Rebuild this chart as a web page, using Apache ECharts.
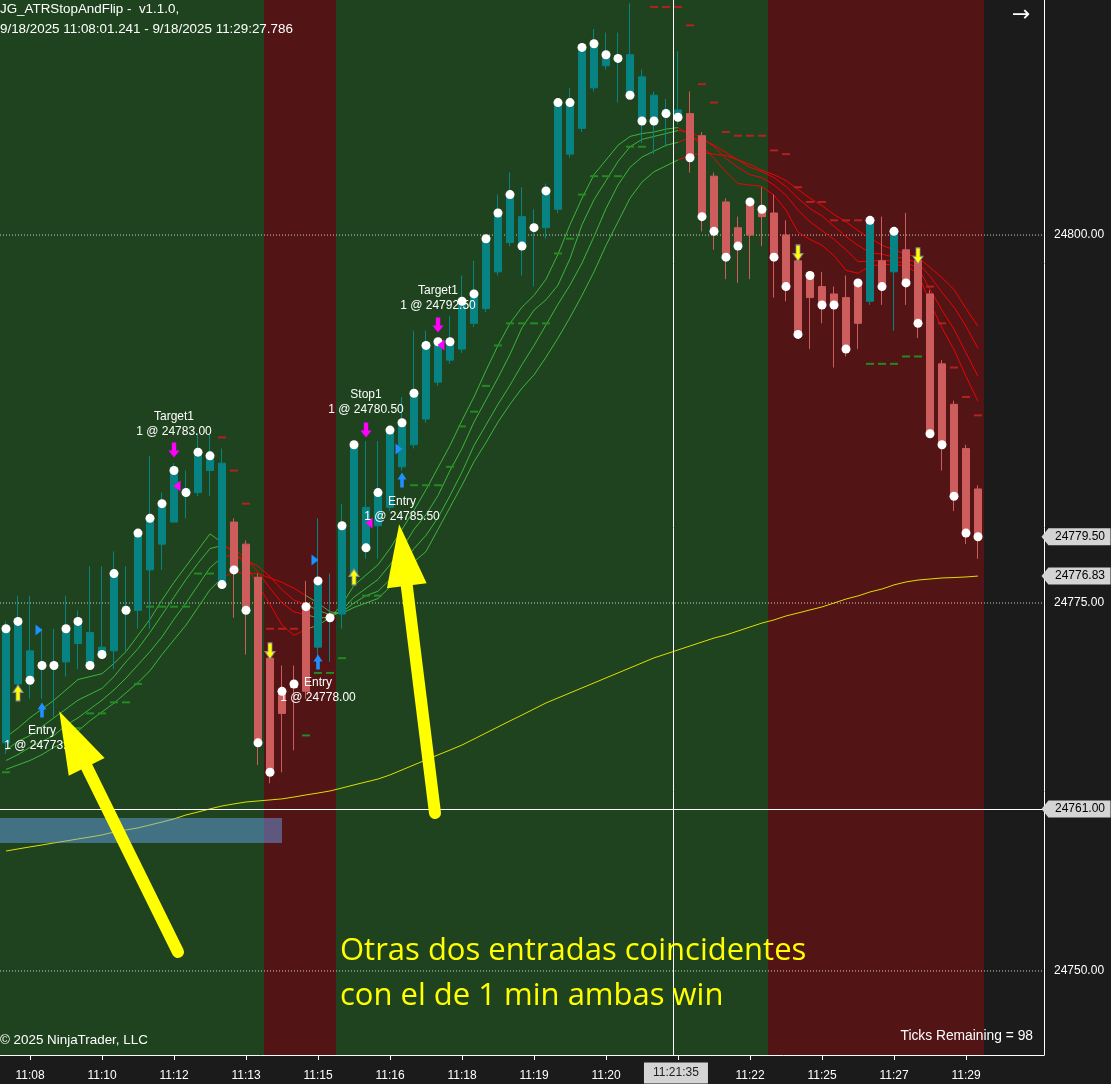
<!DOCTYPE html>
<html>
<head>
<meta charset="utf-8">
<script src="https://cdn.jsdelivr.net/npm/echarts@6.0.0/dist/echarts.min.js"></script>
<style>
html,body{margin:0;padding:0;background:#1b1b1b;overflow:hidden}
#chart{width:1111px;height:1084px}
</style>
</head>
<body>
<div id="chart"></div>
<script>
// ---------------- DATA ----------------
const timeLabels = ['11:08','11:10','11:12','11:13','11:15','11:16','11:18','11:19','11:20','11:21','11:22','11:25','11:27','11:29'];
const yTickValues = [24750, 24775, 24800];

const opens = [24765.5,24769.5,24771.75,24770.75,24770.75,24771,24772.25,24773,24772,24771.75,
24774.75,24774.5,24777.25,24779,24780.5,24782.75,24782.5,24784,24784.5,24780.5,
24779,24776.75,24771.25,24767.5,24769.25,24769,24772,24774,24774.25,24777,
24781.5,24780.25,24781.5,24784.25,24785.75,24787.5,24790,24791.5,24792.25,24794,
24795,24797.5,24799.5,24801.25,24800.5,24800.5,24801.75,24805.5,24807.25,24810,
24811.5,24812,24812.25,24810.75,24809.5,24808.5,24808.5,24808.25,24806.75,24804,
24802.25,24800.5,24800,24801.25,24801.5,24800,24798.25,24795.75,24796.5,24796,
24795.75,24794,24795.5,24798.25,24797.5,24799,24798.25,24796,24791.25,24788.5,
24785.5,24782.75];
const closes = [24773.25,24773.75,24769.75,24770.75,24770.75,24773.25,24773.75,24770.75,24771.5,24777,
24774.5,24779.75,24780.75,24781.75,24784,24782.5,24785.25,24785,24776.25,24777.25,
24774.5,24765.5,24763.5,24769,24769.5,24774.75,24776.5,24774,24780.25,24785.75,
24778.75,24782.5,24786.75,24787.25,24789.25,24792.5,24792.75,24792.75,24795.5,24796,
24799.75,24801.5,24802.75,24799.25,24800.5,24803,24809,24809,24812.75,24813,
24812.25,24812,24809.5,24807.75,24807.75,24808.25,24808,24805.25,24801.25,24800.25,
24798.5,24799.25,24802.25,24801.75,24798.5,24796.5,24793.25,24797.25,24795.25,24795.25,
24792.25,24796.75,24801,24796.5,24800.25,24796.75,24794,24786.5,24785.75,24782.25,
24779.75,24779.5];
const lows = [24764.75,24769,24768.5,24768.5,24767.25,24770,24770.5,24770.5,24771.25,24770.5,
24771.75,24773.25,24773.25,24777.25,24780.5,24780.75,24782.25,24782.25,24776,24774,
24771.5,24764,24762.75,24763.5,24765,24768.5,24770.75,24771,24773.25,24776.25,
24778,24778,24781.25,24784,24785.5,24787.25,24789.75,24791.25,24792,24793.75,
24794.75,24797.25,24799.25,24797.25,24796.5,24799.75,24801.5,24805.25,24807,24809.75,
24811.25,24809,24809.25,24806.25,24805.5,24806,24807.5,24804.25,24800.25,24799,
24797,24796.75,24797,24799.25,24795.75,24795.5,24793,24792.25,24794,24791,
24791.75,24792.25,24795.25,24795.25,24793.5,24795.25,24793,24786.25,24784,24781.25,
24779,24778];
const highs = [24773.75,24775.5,24775.5,24773.25,24773.25,24775.5,24774.5,24777.5,24777.5,24778.5,
24777.5,24780,24785,24782.5,24784.5,24784,24786.5,24786.5,24785.5,24780.75,
24779.25,24777,24771.5,24770.75,24770.75,24776.5,24780.75,24777,24781.75,24786,
24786,24786,24787,24789,24793.5,24793.5,24793,24794.5,24797.25,24798.25,
24800,24802.75,24804.25,24803.25,24801.75,24803.5,24809.25,24810,24813,24814,
24813.75,24813.75,24815.75,24811.25,24809.75,24809.25,24812.5,24809.75,24807,24804.25,
24802.5,24801.25,24802.5,24803.25,24802.75,24801,24798.5,24797.5,24797.5,24796.5,
24797.25,24797,24801.25,24801.25,24800.5,24801.5,24798.5,24796.25,24791.5,24788.75,
24785.75,24783];
// bar trend state from the ATR stop-and-flip indicator (U = long, D = short)
const trend = ['U','U','U','U','U','U','U','U','U','U','U','U','U','U','U','U','U','U','U',
'D','D','D','D','D','D','D',
'U','U','U','U','U','U','U','U','U','U','U','U','U','U','U','U','U','U','U','U','U','U','U','U','U','U','U','U','U','U','U',
'D','D','D','D','D','D','D','D','D','D','D','D','D','D','D',
'U','D','U','D','D','D','D','D','D','D'];

const ma1 = [24765.9,24766.5,24767.2,24767.8,24768.4,24769.1,24769.8,24770.0,24770.2,24770.9,
24771.7,24772.8,24773.9,24775.2,24776.4,24777.5,24778.6,24779.7,24779.1,24778.4,
24777.6,24776.2,24774.9,24773.5,24772.8,24773.2,24773.5,24774.0,24774.9,24776.2,
24776.9,24777.6,24778.7,24780.0,24781.3,24782.7,24784.2,24785.7,24787.4,24789.0,
24790.8,24792.5,24794.0,24795.1,24795.9,24797.0,24798.7,24800.7,24802.5,24804.1,
24805.1,24806.1,24806.7,24806.9,24807.0,24807.2,24807.3,24806.8,24806.1,24805.2,
24804.3,24803.5,24803.4,24803.3,24802.7,24801.7,24800.2,24799.7,24799.3,24798.6,
24797.6,24797.4,24797.9,24798.0,24798.0,24797.9,24797.4,24795.4,24793.7,24792.2,
24790.4,24788.7];
const ma2 = [24765.0,24765.6,24766.0,24766.6,24767.2,24767.8,24768.4,24768.8,24769.2,24770.0,
24771.0,24771.9,24773.0,24774.2,24775.4,24776.6,24777.7,24778.7,24778.9,24778.6,
24778.1,24777.1,24776.0,24775.0,24774.4,24774.2,24774.0,24774.0,24774.5,24775.4,
24776.0,24776.6,24777.6,24778.7,24780.0,24781.0,24782.3,24784.0,24785.5,24787.3,
24788.8,24790.3,24791.9,24793.7,24794.9,24795.6,24796.6,24798.4,24800.7,24802.4,
24803.7,24805.0,24806.0,24806.5,24806.7,24806.9,24807.1,24807.0,24806.6,24806.0,
24805.2,24804.6,24804.1,24803.9,24803.4,24802.7,24801.7,24800.9,24800.3,24799.7,
24799.0,24798.2,24798.2,24798.3,24798.2,24798.1,24797.8,24796.3,24794.9,24793.6,
24792.0,24790.4];
const ma3 = [24764.3,24764.7,24765.2,24765.6,24766.0,24766.7,24767.2,24767.8,24768.4,24769.1,
24769.9,24770.8,24771.7,24772.7,24773.9,24775.0,24776.2,24777.4,24778.1,24778.3,
24777.9,24777.5,24776.8,24775.9,24775.2,24774.9,24774.5,24774.2,24774.4,24775.0,
24775.5,24775.8,24776.6,24777.6,24778.7,24779.6,24780.8,24782.3,24783.9,24785.7,
24787.1,24788.5,24789.8,24791.2,24792.5,24793.9,24795.3,24796.6,24798.1,24799.9,
24801.8,24803.4,24804.6,24805.3,24805.7,24806.1,24806.3,24806.6,24806.5,24806.1,
24805.6,24805.1,24804.6,24804.3,24803.9,24803.3,24802.5,24801.8,24801.3,24800.6,
24799.9,24799.3,24798.8,24798.7,24798.5,24798.4,24798.1,24797.2,24796.1,24795.1,
24793.8,24792.3];
const ma4 = [24763.7,24764.0,24764.3,24764.7,24765.2,24765.6,24766.3,24767.0,24767.6,24768.2,
24768.9,24769.6,24770.4,24771.5,24772.5,24773.5,24774.7,24775.9,24776.7,24777.1,
24777.0,24777.0,24776.7,24776.4,24776.0,24775.5,24775.0,24774.4,24774.3,24774.7,
24775.0,24775.3,24776.1,24776.9,24777.8,24778.5,24780.0,24781.5,24783.0,24784.6,
24785.9,24787.3,24788.5,24789.6,24790.5,24791.7,24793.0,24794.4,24795.9,24797.5,
24799.3,24800.9,24802.5,24803.6,24804.3,24804.7,24805.1,24805.4,24805.6,24805.5,
24805.4,24805.1,24804.8,24804.4,24804.1,24803.7,24803.1,24802.5,24802.0,24801.4,
24800.9,24800.3,24799.8,24799.3,24799.0,24798.7,24798.5,24797.8,24797.1,24796.3,
24795.0,24793.8];
const smaSlow = [24758.15,24758.29,24758.43,24758.56,24758.70,24758.83,24758.97,24759.10,24759.24,24759.44,
24759.58,24759.72,24759.92,24760.12,24760.33,24760.60,24760.80,24761.01,24761.21,24761.35,
24761.48,24761.55,24761.62,24761.69,24761.82,24761.96,24762.09,24762.23,24762.43,24762.64,
24762.84,24763.04,24763.32,24763.66,24764.00,24764.34,24764.68,24765.01,24765.35,24765.76,
24766.17,24766.58,24766.99,24767.39,24767.80,24768.21,24768.55,24768.89,24769.23,24769.57,
24769.91,24770.25,24770.59,24770.93,24771.27,24771.54,24771.81,24772.08,24772.35,24772.62,
24772.83,24773.10,24773.37,24773.64,24773.85,24774.12,24774.32,24774.53,24774.73,24775.00,
24775.27,24775.48,24775.75,24775.95,24776.23,24776.43,24776.56,24776.63,24776.70,24776.73,
24776.77,24776.83];

// ATR stop levels: [bar, price]
const longStops = [[0,24763.5],[6,24766.5],[7,24767.5],[8,24767.5],[9,24768.25],[10,24768.25],[11,24769.5],
[12,24774.75],[13,24774.75],[14,24774.75],[15,24774.75],[16,24777],[17,24777],
[25,24766],[26,24770.25],[27,24770.25],[28,24771.25],[30,24775.5],[31,24775.5],
[34,24783],[35,24783],[36,24783],[37,24784.25],[38,24787],[39,24788],[40,24789.75],[41,24792.5],
[42,24794],[43,24794],[44,24794],[45,24794],[46,24798.75],[47,24799.75],[48,24802.75],
[49,24804],[50,24804],[51,24804],[52,24806],[53,24806],
[72,24791.25],[73,24791.25],[74,24791.25],[75,24791.75],[76,24791.75]];
const shortStops = [[18,24786.25],[19,24784],[20,24781.75],[21,24774.5],[22,24773.25],[23,24773.25],[24,24773.25],
[54,24815.5],[55,24815.5],[56,24815.5],[57,24814.25],[58,24810.25],[59,24809],[60,24807],
[61,24806.75],[62,24806.75],[63,24806.75],[64,24805.75],[65,24805.5],[66,24803.25],[67,24802.25],[68,24802.25],
[69,24801],[70,24801],[71,24801],[77,24796.5],[78,24794],[79,24791],[80,24789],[81,24787.75]];

// signal markers: [bar, price]
const yellowUp = [[1,24768.89],[29,24776.77]];
const yellowDown = [[22,24771.74],[66,24798.78],[76,24798.58]];
const blueUp = [[3,24767.73],[26,24770.99],[33,24783.36]];
const blueRight = [[3,24773.17],[26,24777.92],[33,24785.46]];
const magentaDown = [[14,24785.40],[30,24786.76],[36,24793.89]];
const magentaLeft = [[14,24782.95],[30,24780.43],[36,24792.53]];

// order labels
const orderLabelBars = [3,14,26,30,33,36];
const orderLabelPrices = [24765.83,24787.16,24769.09,24788.66,24781.39,24795.72];
const orderLabelTexts = ['Entry\n1 @ 24773.00','Target1\n1 @ 24783.00','Entry\n1 @ 24778.00','Stop1\n1 @ 24780.50','Entry\n1 @ 24785.50','Target1\n1 @ 24792.50'];

// session background zones (bar-position units) and drawings
const redZones = [[21.5,27.5],[63.5,81.5]];
const emptyZone = [81.5,86.5];
const blueBox = [[-0.5,24760.40],[23,24758.70]];
const annotationArrows = [[[14.33,24751.29],[5.58,24765.76]],[[35.75,24760.73],[33.08,24778.26]]];
const crosshair = {pos:55.58, labelPos:55.83, price:24761.00, label:'11:21:35'};
const priceTags = [24779.50, 24776.83];

// ---------------- CHART ----------------
const SLOTS = 87;
const Y_MIN = 24744.29, Y_MAX = 24815.97;
const TEAL = '#078383', SALMON = '#cd5c5c';
const GREEN_LINE = '#3cb43c', RED_LINE = '#f00000';
const FONT = 'Liberation Sans, Arial, sans-serif';

const categories = [];
for (let i = 0; i < SLOTS; i++) {
  const k = (i - 2) / 6;
  categories.push(Number.isInteger(k) && k >= 0 && k < timeLabels.length ? timeLabels[k] : 'bar' + i);
}
const showTick = (i) => !String(categories[i]).startsWith('bar');

const candleData = opens.map((o, i) => {
  const col = trend[i] === 'U' ? TEAL : SALMON;
  return {value: [o, closes[i], lows[i], highs[i]],
          itemStyle: {color: col, color0: col, borderColor: col, borderColor0: col}};
});

const upPath = 'path://M5,0 L10,7 L7,7 L7,15 L3,15 L3,7 L0,7 Z';
const downPath = 'path://M3,0 L7,0 L7,8 L10,8 L5,15 L0,8 L3,8 Z';
const rightPath = 'path://M0,0 L7,5 L0,10 Z';
const leftPath = 'path://M7,0 L0,5 L7,10 Z';
const tagPath = 'path://M0,8 L7,0 L70,0 L70,16 L7,16 Z';

function markerSeries(data, symbol, size, color, border, offset) {
  return {type: 'scatter', data: data, symbol: symbol, symbolSize: size, symbolOffset: offset || [0,0],
    itemStyle: {color: color, borderColor: border || color, borderWidth: border ? 1 : 0, opacity: 1},
    z: 4, silent: true};
}
function maSeries(vals) {
  return {type: 'line', data: vals, symbol: 'none', smooth: false, z: 3,
    lineStyle: {width: 1}, silent: true};
}
const whiteLine = {color: '#ffffff', width: 1, type: 'solid'};

const series = [
  // 0: session zones
  {type: 'line', xAxisIndex: 1, data: [], silent: true, z: 1,
   markArea: {silent: true, data: redZones.map(z => [{xAxis: z[0], itemStyle: {color: '#521414'}}, {xAxis: z[1]}])
      .concat([[{xAxis: emptyZone[0], itemStyle: {color: '#1b1b1b'}}, {xAxis: emptyZone[1]}]])}},
  // 1: slow SMA
  {type: 'line', data: smaSlow, symbol: 'none', z: 3, lineStyle: {color: '#dede00', width: 1}, silent: true},
  // 2-5: MA ribbon
  maSeries(ma1), maSeries(ma2), maSeries(ma3), maSeries(ma4),
  {type: 'scatter', data: longStops, symbol: 'rect', symbolSize: [8, 2], itemStyle: {color: '#228b22', opacity: 1}, z: 3, silent: true},
  {type: 'scatter', data: shortStops, symbol: 'rect', symbolSize: [8, 2], itemStyle: {color: '#b22222', opacity: 1}, z: 3, silent: true},
  {type: 'candlestick', data: candleData, barWidth: 8, z: 3, silent: true, itemStyle: {borderWidth: 1}},
  {type: 'scatter', data: closes.map((c, i) => [i, c]), symbol: 'circle', symbolSize: 9,
   itemStyle: {color: '#ffffff', opacity: 1}, z: 4, silent: true},
  markerSeries(yellowUp, upPath, [10, 16], '#ffff00', '#8c8c8c'),
  markerSeries(yellowDown, downPath, [10, 16], '#ffff00', '#8c8c8c'),
  markerSeries(blueUp, upPath, [9, 15], '#1e90ff'),
  markerSeries(blueRight, rightPath, [7, 11], '#1e90ff', null, [-3, 0]),
  markerSeries(magentaDown, downPath, [11, 15], '#ff00ff'),
  markerSeries(magentaLeft, leftPath, [7, 11], '#ff00ff', null, [3, 0]),
  {type: 'scatter', z: 4, silent: true, symbolSize: 1, itemStyle: {color: 'rgba(0,0,0,0)', opacity: 1},
   data: orderLabelBars.map((b, i) => ({value: [b, orderLabelPrices[i]], txt: orderLabelTexts[i]})),
   label: {show: true, position: 'inside', color: '#ffffff', opacity: 1, fontSize: 12, fontFamily: FONT, lineHeight: 15,
     align: 'center', formatter: (p) => p.data.txt}},
  // blue drawing box (above the SMA line)
  {type: 'line', xAxisIndex: 1, silent: true, z: 4, symbol: 'none',
   data: [[blueBox[0][0], blueBox[0][1]], [blueBox[1][0], blueBox[0][1]]],
   lineStyle: {width: 0, opacity: 0},
   areaStyle: {origin: blueBox[1][1], color: 'rgba(110,170,255,0.45)', opacity: 1}},
  // overlay: crosshair, annotation arrows, price tags
  {type: 'line', xAxisIndex: 1, data: [], silent: true, z: 6,
   markLine: {silent: true, symbol: ['none', 'none'], label: {show: false},
     data: [
       [{coord: [crosshair.pos, Y_MIN], symbol: 'none', lineStyle: whiteLine}, {coord: [crosshair.pos, Y_MAX], symbol: 'none'}],
       [{coord: [-0.5, crosshair.price], symbol: 'none', lineStyle: whiteLine}, {coord: [SLOTS - 0.5, crosshair.price], symbol: 'none'}]
     ].concat(annotationArrows.map(a => [
       {coord: a[0], symbol: 'none', lineStyle: {color: '#ffff00', width: 12, type: 'solid', cap: 'round'}},
       {coord: a[1], symbol: 'triangle', symbolSize: [40, 62]}
     ]))},
   markPoint: {silent: true,
     data: priceTags.map(p => ({coord: [SLOTS - 0.5, p], name: p.toFixed(2)}))
       .concat([{coord: [SLOTS - 0.5, crosshair.price], name: crosshair.price.toFixed(2)}])
       .map(d => Object.assign(d, {symbol: tagPath, symbolSize: [69, 17], symbolOffset: [32, 0],
          itemStyle: {color: '#d4d4d4'},
          label: {show: true, position: 'inside', offset: [4, 0], color: '#000000', fontSize: 12, fontFamily: FONT, formatter: '{b}'}}))
       .concat([{coord: [crosshair.labelPos, Y_MIN], name: crosshair.label, symbol: 'rect', symbolSize: [64, 21], symbolOffset: [0, 18],
          itemStyle: {color: '#d4d4d4'},
          label: {show: true, position: 'inside', color: '#222222', fontSize: 12, fontFamily: FONT, formatter: '{b}'}}])
   }}
].concat(yTickValues.map(v => ({
  type: 'line', xAxisIndex: 1, silent: true, z: 2, symbol: 'none',
  data: [[-0.5, v], [SLOTS - 0.5, v]],
  lineStyle: {color: '#d0d0d0', type: [1, 2], width: 1}
})));

const option = {
  animation: false,
  backgroundColor: '#1b1b1b',
  grid: {left: 0, top: 0, width: 1044, height: 1055, show: true, backgroundColor: '#1f431f', borderWidth: 0},
  xAxis: [
    {type: 'category', data: categories, boundaryGap: true,
     axisLine: {show: true, onZero: false, lineStyle: {color: '#ffffff', width: 1}},
     axisTick: {show: true, interval: (i) => showTick(i), alignWithLabel: true, length: 5, lineStyle: {color: '#ffffff'}},
     axisLabel: {interval: (i) => showTick(i), color: '#ffffff', fontSize: 12, fontFamily: FONT, margin: 15},
     splitLine: {show: false}},
    {type: 'value', min: -0.5, max: SLOTS - 0.5, show: false}
  ],
  yAxis: {type: 'value', position: 'right', min: Y_MIN, max: Y_MAX, scale: true,
    axisLine: {show: true, onZero: false, lineStyle: {color: '#ffffff', width: 1}},
    axisTick: {show: false, customValues: yTickValues},
    axisLabel: {customValues: yTickValues, color: '#ffffff', fontSize: 12, fontFamily: FONT, margin: 10,
      formatter: (v) => v.toFixed(2)},
    splitLine: {show: false}
  },
  visualMap: {type: 'piecewise', show: false, dimension: 0, seriesIndex: [2,3,4,5],
    pieces: [{lt: 17.8, color: GREEN_LINE}, {gte: 17.8, lt: 24.8, color: RED_LINE},
             {gte: 24.8, lt: 55.9, color: GREEN_LINE}, {gte: 55.9, color: RED_LINE}]},
  series: series,
  graphic: [
    {type: 'text', left: 0, top: 3, z: 100, silent: true, style: {text: 'JG_ATRStopAndFlip -  v1.1.0,', fill: '#ffffff', font: '13.4px ' + FONT}},
    {type: 'text', left: 0, top: 23, z: 100, silent: true, style: {text: '9/18/2025 11:08:01.241 - 9/18/2025 11:29:27.786', fill: '#ffffff', font: '13.4px ' + FONT}},
    {type: 'text', left: 0, top: 1034, z: 100, silent: true, style: {text: '\u00a9 2025 NinjaTrader, LLC', fill: '#ffffff', font: '13.4px ' + FONT}},
    {type: 'text', right: 78, top: 1029, z: 100, silent: true, style: {text: 'Ticks Remaining = 98', fill: '#ffffff', font: '13.8px ' + FONT}},
    {type: 'text', left: 1012, top: 4, z: 100, silent: true, style: {text: '\u2192', fill: '#ffffff', font: '22px DejaVu Sans'}},
    {type: 'text', left: 340, top: 936, z: 100, silent: true, style: {text: 'Otras dos entradas coincidentes', fill: '#ffff00', font: '31px "Open Sans"'}},
    {type: 'text', left: 340, top: 981, z: 100, silent: true, style: {text: 'con el de 1 min ambas win', fill: '#ffff00', font: '31px "Open Sans"'}}
  ]
};

const chart = echarts.init(document.getElementById('chart'), null, {renderer: 'canvas'});
chart.setOption(option);
</script>
</body>
</html>
